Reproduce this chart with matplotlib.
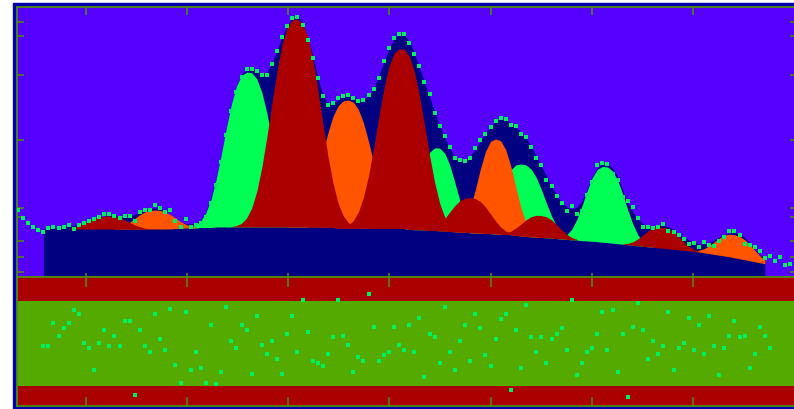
import numpy as np
import matplotlib
matplotlib.use("Agg")
import matplotlib.pyplot as plt
from matplotlib.patches import Rectangle

# measured counts, one value per channel (channel 0 .. 152)
counts = [67, 59, 54, 50, 47, 45, 49, 50, 49, 50,
          52, 48, 52, 54, 56, 58, 60, 63, 63, 61,
          59, 61, 61, 56, 65, 67, 67, 72, 69, 65,
          67, 56, 50, 58, 50, 52, 54, 60, 74, 92,
          115, 142, 166, 185, 200, 208, 208, 206, 202, 202,
          213, 226, 240, 251, 259, 260, 252, 237, 219, 199,
          181, 172, 174, 179, 181, 182, 179, 176, 177, 182,
          188, 199, 216, 229, 239, 243, 243, 234, 223, 211,
          195, 183, 164, 151, 141, 130, 119, 117, 116, 119,
          129, 137, 143, 150, 156, 159, 158, 152, 151, 143,
          140, 130, 119, 112, 97, 91, 81, 74, 66, 71,
          63, 66, 82, 95, 112, 114, 113, 103, 97, 80,
          76, 70, 59, 50, 50, 49, 50, 53, 46, 45,
          42, 38, 33, 34, 30, 35, 32, 31, 36, 40,
          46, 46, 42, 33, 32, 30, 26, 19, 21, 16,
          20, 12, 13]

# fit window starts at channel 5
fit_first = 5

# background under the peaks (channels 5 .. 147)
background = [48, 48, 48, 48, 48, 48, 48, 48, 48, 48,
              48, 48, 48, 48, 48, 48, 48, 48, 48, 48,
              48, 48, 48, 48, 48, 48, 48.5, 48.5, 49, 49,
              49, 49.5, 49.5, 49.5, 50, 50, 50, 50, 50, 50,
              50, 50, 50, 50, 50, 50, 50, 50, 50, 50,
              50, 50, 50, 50, 50, 50, 49.5, 49.5, 49, 49,
              49, 49, 49, 49, 48.5, 48.5, 48.5, 48.5, 48.5, 48.5,
              48.5, 48.5, 47.5, 47.3, 47.1, 47, 46.8, 46.5, 46.2, 45.8,
              45.5, 45.2, 44.9, 44.6, 44.3, 44.0, 43.8, 43.6, 43.4, 43.1,
              42.9, 42.6, 42.3, 41.8, 41.0, 40.6, 40.2, 39.9, 39.5, 39.1,
              38.8, 38.4, 38.0, 37.6, 37.2, 36.8, 36.4, 36.0, 35.7, 35.3,
              34.8, 34.3, 33.8, 33.3, 32.7, 32.2, 31.7, 31.2, 30.7, 30.2,
              29.7, 29.2, 28.7, 28.2, 27.7, 27.1, 26.6, 26.1, 25.6, 25.0,
              24.2, 23.4, 22.6, 21.8, 21.0, 20.2, 19.2, 18.2, 17.2, 16.2,
              15.2, 14.2, 13.2]

# total fitted curve (channels 5 .. 147)
fit_total = [48, 48.5, 49, 49.5, 50, 50.5, 51.5, 53, 55, 57,
             58.5, 60, 61, 61.5, 61.5, 61, 60.5, 61, 62.5, 64.5,
             67, 68.5, 69, 68, 65.5, 62, 58, 55, 53.5, 53,
             54, 57, 65, 80, 98, 122, 149, 173, 191, 203,
             207, 208, 206, 204, 205, 214, 227, 241, 252, 259,
             261, 255, 240, 222, 200, 182, 173, 173, 177, 180.5,
             181.5, 180, 177.5, 177.5, 181, 189, 201, 215, 228, 238,
             243, 242, 236, 224, 210, 195, 180, 165, 151, 139,
             128, 120, 116, 117, 121, 128, 136, 144, 151, 156,
             158, 157.5, 154.5, 150, 145, 139, 131, 121, 111, 101,
             91, 82, 75, 70, 68, 70, 76, 88, 100, 109,
             113, 113, 109, 100, 87, 74, 65, 58, 53, 51,
             51, 52, 52, 50, 47.5, 43, 40, 37, 34.5, 33,
             33, 34.5, 37, 40, 42.5, 44, 44.5, 43, 39.5, 34,
             27.5, 22.5, 18]

# weighted residuals (channels 5 .. 148)
residuals = [-0.13, -0.13, 0.96, 0.37, 0.71, 0.96, 1.56, 1.39, 0.02, -0.23,
             -1.25, 0.02, 0.62, -0.13, 0.37, -0.13, 1.04, 1.04, -2.44, 0.62,
             -0.13, -0.4, 1.39, 0.2, -0.31, 1.64, -1.0, -1.84, 1.47, -1.25,
             -0.4, -1.17, -1.84, 0.87, -1.92, -1.34, 1.72, 0.12, -0.23, 0.87,
             0.62, -1.42, 1.29, -0.06, -0.48, 0.12, -0.73, -1.42, 0.45, 1.29,
             -0.4, 2.06, 0.54, -0.82, -0.9, -1.07, -0.48, 0.29, 2.06, 0.37,
             -0.06, -1.33, -0.65, -0.82, 2.33, 0.79, -0.82, -0.56, -0.4, 0.79,
             -0.06, -0.31, 0.87, -0.4, 1.21, -1.59, 0.45, 0.29, -0.9, 1.72,
             -0.4, -1.25, 0.12, 0.87, -0.82, 1.39, 0.71, -0.56, -1.07, 0.2,
             1.14, 1.39, -2.19, 0.62, -1.17, 1.81, 0.29, -0.4, 0.29, -0.9,
             0.2, 0.45, 0.71, -0.31, 2.06, -1.5, -0.9, -0.4, -0.23, 0.45,
             1.47, -0.31, 1.56, -1.34, 0.45, -2.53, 0.79, 1.89, 0.62, -0.73,
             0.12, -0.48, -0.13, 1.47, -1.25, -0.23, 0.02, 1.21, -0.31, 0.87,
             -0.48, 1.29, -0.13, -1.5, -0.23, 0.37, 1.04, 0.29, 0.37, -1.17,
             -0.48, 0.79, 0.37, -0.23]

# peak components: centre (channel), height above background, half width at half max
peak_kind   = ['red', 'orange', 'green', 'red', 'orange', 'red', 'green',
               'red', 'orange', 'green', 'red', 'green', 'red', 'orange']
peak_centre = [17.7, 27.0, 45.3, 54.7, 64.8, 75.4, 82.5,
               89.0, 94.1, 99.2, 102.7, 115.5, 126.7, 140.9]
peak_height = [13, 19, 155, 208, 128, 180, 83,
               35, 95, 72, 22, 76, 21, 23]
peak_hwhm   = [4.3, 4.3, 5.1, 5.3, 5.3, 5.1, 3.9,
               4.3, 3.9, 4.7, 3.9, 4.3, 3.9, 4.1]

x_ticks = [13.4, 33.3, 53.2, 73.1, 93.0, 112.9, 132.8]
y_ticks = [5.3, 20, 36.3, 60.3, 69.3, 136.7, 201.7, 240.7, 255]

colours = {'green': '#00ff55', 'orange': '#ff5500', 'red': '#aa0000'}
frame = '#508a10'
dot = '#00f060'

chan = np.arange(len(counts))
fit_chan = np.arange(fit_first, fit_first + len(fit_total))
res_chan = np.arange(fit_first, fit_first + len(residuals))
bg = np.array(background)

fig = plt.figure(figsize=(7.94, 4.09), dpi=100, facecolor='white')
border = Rectangle((13 / 794, 0), 1, 406 / 409, transform=fig.transFigure,
                   color='#0000aa', zorder=-10)
fig.add_artist(border)

# spectrum panel
ax = fig.add_axes([17 / 794, 132 / 409, 780 / 794, 270 / 409])
ax.set_facecolor('#5500ff')
ax.fill_between(fit_chan, 0, fit_total, color='#000080', lw=0, zorder=1)
z = 2
for kind in ['green', 'orange', 'red']:
    for k, c, h, w in zip(peak_kind, peak_centre, peak_height, peak_hwhm):
        if k != kind:
            continue
        p = h * np.exp(-np.log(2) * np.abs((fit_chan - c) / w) ** 2.5)
        ax.fill_between(fit_chan, bg, bg + p, where=p > 0.3, color=colours[k],
                        lw=0, zorder=z)
    z += 1
ax.plot(chan, counts, 's', ms=2.6, mew=0, color=dot, zorder=6)
ax.set_xlim(-0.177, 153.3)
ax.set_ylim(0, 270)

# residual panel
ax2 = fig.add_axes([17 / 794, 3 / 409, 780 / 794, 129 / 409])
ax2.set_facecolor('#aa0000')
ax2.axhspan(-2, 2, color='#55aa00', lw=0, zorder=1)
ax2.plot(res_chan, residuals, 's', ms=2.6, mew=0, color=dot, zorder=3)
ax2.set_xlim(-0.177, 153.3)
ax2.set_ylim(-2.94, 3.13)

for a in (ax, ax2):
    for s in a.spines.values():
        s.set_color(frame)
        s.set_linewidth(1.3)
    a.set_xticks(x_ticks)
    a.set_xticks(x_ticks, minor=True)
    a.xaxis.remove_overlapping_locs = False
    a.tick_params(labelbottom=False, labelleft=False)

ax.set_yticks(y_ticks)
ax.tick_params(axis='x', which='major', direction='in', top=True, bottom=False,
               length=5.8, width=1.15, color=frame)
ax.tick_params(axis='x', which='minor', direction='in', top=False, bottom=True,
               length=2.9, width=1.15, color=frame)
ax.tick_params(axis='y', direction='in', left=True, right=True,
               length=5, width=1.15, color=frame)

ax2.set_yticks([])
ax2.tick_params(axis='x', which='major', direction='in', top=True, bottom=False,
                length=7, width=1.15, color=frame)
ax2.tick_params(axis='x', which='minor', direction='in', top=False, bottom=True,
                length=6.5, width=1.15, color=frame)

fig.savefig('out.png', dpi=100, facecolor='white')
